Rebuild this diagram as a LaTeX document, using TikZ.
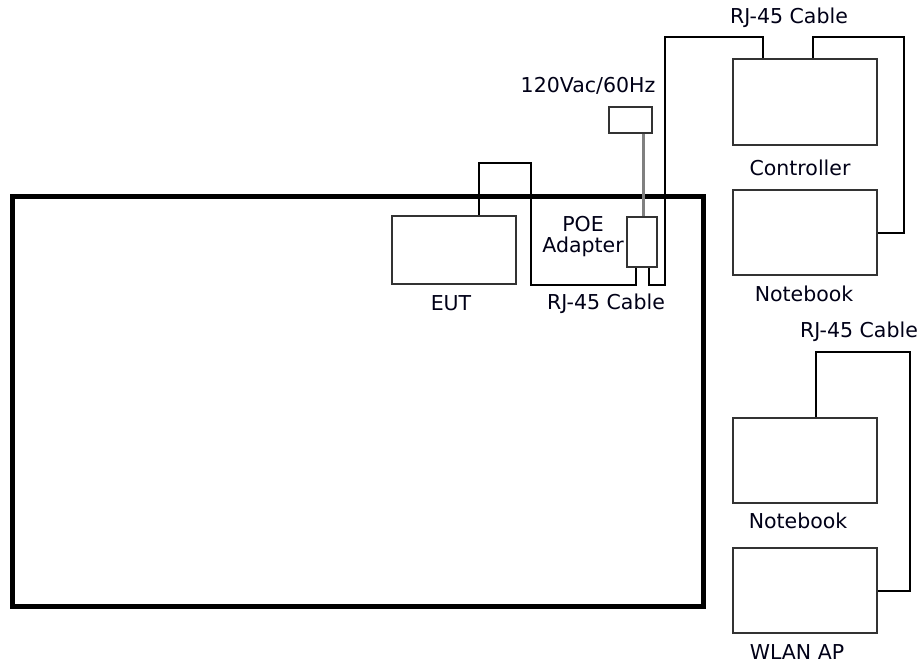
\documentclass[tikz,border=0pt]{standalone}
\usepackage{fontspec}
\setmainfont{DejaVu Sans}
\begin{document}
\begin{tikzpicture}[x=1pt,y=-1pt,
  box/.style={draw=black!80,line width=2.5pt,inner sep=0pt,minimum width=144pt,minimum height=85pt},
  cable/.style={draw=black,line width=2pt},
  power/.style={draw=black!50,line width=3pt},
  lbl/.style={inner sep=0pt,font=\fontsize{20.5}{21}\selectfont,text=black!85!blue!60!black}]
\useasboundingbox (0,0) rectangle (923,663);
\fill[white] (0,0) rectangle (923,663);
% room
\node[draw=black,line width=5pt,inner sep=0pt,minimum width=691pt,minimum height=409pt] (room) at (357.5,401.5) {};
% devices
\node[box,minimum width=124pt,minimum height=68pt] (eut) at (454,250) {};
\node[box,minimum width=30pt,minimum height=50pt] (poe) at (642,242) {};
\node[box,minimum width=43pt,minimum height=26pt] (plug) at (630.5,120) {};
\node[box,minimum height=86pt] (ctrl) at (805,102) {};
\node[box] (nb1) at (805,232.5) {};
\node[box] (nb2) at (805,460.5) {};
\node[box] (wlan) at (805,590.5) {};
% labels
\node[lbl] (leut) at (451,303) {EUT};
\node[lbl,align=center] (lpoe) at (583,237) {POE\\Adapter};
\node[lbl] (lac) at (588,86) {120Vac/60Hz};
\node[lbl] (lrj1) at (606,304) {RJ-45 Cable};
\node[lbl] (lrj2) at (789,18) {RJ-45 Cable};
\node[lbl] (lrj3) at (859,332) {RJ-45 Cable};
\node[lbl] (lctrl) at (800,168) {Controller};
\node[lbl] (lnb1) at (804,294) {Notebook};
\node[lbl] (lnb2) at (798,521) {Notebook};
\node[lbl] (lwlan) at (797,652) {WLAN AP};
% cables
\draw[power] (643,0 |- plug.south) -- (643,0 |- poe.north);
\draw[cable] (479,0 |- eut.north) |- (531,163) |- (636,285) -- (636,0 |- poe.south);
\draw[cable] (649,0 |- poe.south) |- (665,285) |- (763,37) -- (763,0 |- ctrl.north);
\draw[cable] (813,0 |- ctrl.north) |- (904,37) |- (nb1.east);
\draw[cable] (816,0 |- nb2.north) |- (910,352) |- (wlan.east);
\end{tikzpicture}
\end{document}
